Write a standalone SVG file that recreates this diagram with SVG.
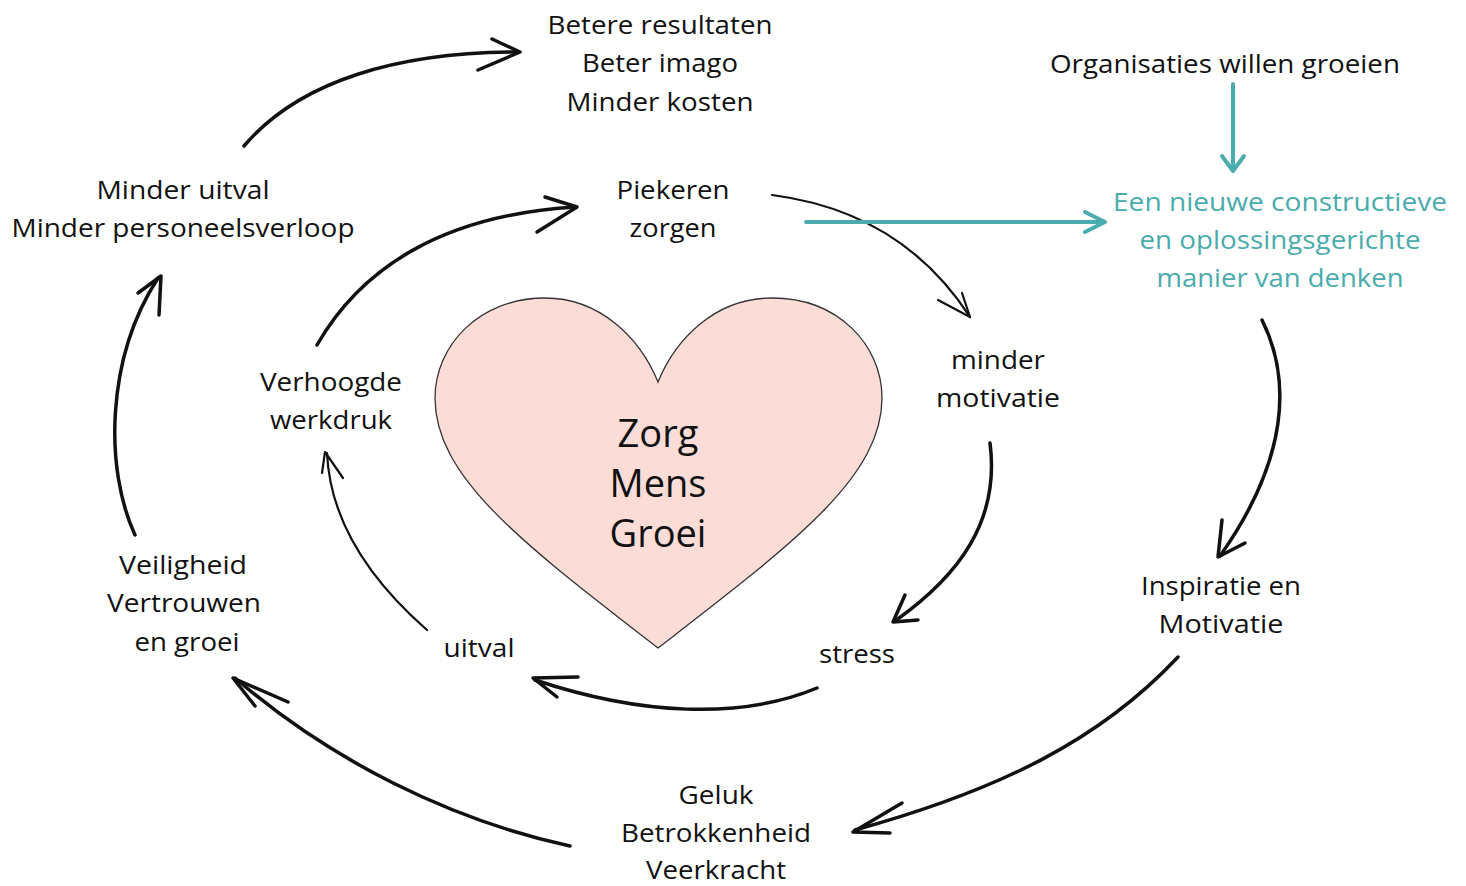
<svg xmlns="http://www.w3.org/2000/svg" width="1466" height="886" viewBox="0 0 1466 886">
<style>
text{font-family:"Open Sans","Noto Sans","Liberation Sans",sans-serif;font-size:26px;fill:#111;text-anchor:middle}
.teal{fill:#4aacac}
.big{font-size:38px}
.c{fill:none;stroke:#111;stroke-linecap:round;stroke-linejoin:round}
.w3{stroke-width:3.5}
.w2{stroke-width:2.2}
.t{fill:none;stroke:#4aacac;stroke-width:4;stroke-linecap:round;stroke-linejoin:round}
</style>
<rect width="1466" height="886" fill="#fff"/>
<g id="heart">
<path d="M658,382 C640,338 600,298 545,298 C480,298 435,345 435,398 C435,478 525,545 658,648 C791,545 882,478 882,398 C882,345 838,298 772,298 C716,298 676,338 658,382 Z" fill="#fbdcd7" stroke="#333" stroke-width="1.3"/>
<text class="big" x="658" y="447">Zorg</text>
<text class="big" x="658" y="497">Mens</text>
<text class="big" x="658" y="547">Groei</text>
</g>
<g id="node-resultaten">
<text x="660" y="34" textLength="225" lengthAdjust="spacingAndGlyphs">Betere resultaten</text>
<text x="660" y="72" textLength="156" lengthAdjust="spacingAndGlyphs">Beter imago</text>
<text x="660" y="111" textLength="187" lengthAdjust="spacingAndGlyphs">Minder kosten</text>
</g>
<g id="node-organisaties">
<text x="1225" y="73" textLength="350" lengthAdjust="spacingAndGlyphs">Organisaties willen groeien</text>
</g>
<g id="node-denken">
<text class="teal" x="1280" y="211" textLength="334" lengthAdjust="spacingAndGlyphs">Een nieuwe constructieve</text>
<text class="teal" x="1280" y="249" textLength="281" lengthAdjust="spacingAndGlyphs">en oplossingsgerichte</text>
<text class="teal" x="1280" y="287" textLength="247" lengthAdjust="spacingAndGlyphs">manier van denken</text>
</g>
<g id="node-piekeren">
<text x="673" y="199" textLength="113" lengthAdjust="spacingAndGlyphs">Piekeren</text>
<text x="673" y="237" textLength="87" lengthAdjust="spacingAndGlyphs">zorgen</text>
</g>
<g id="node-uitval-verloop">
<text x="183" y="199" textLength="173" lengthAdjust="spacingAndGlyphs">Minder uitval</text>
<text x="183" y="237" textLength="343" lengthAdjust="spacingAndGlyphs">Minder personeelsverloop</text>
</g>
<g id="node-werkdruk">
<text x="331" y="391" textLength="142" lengthAdjust="spacingAndGlyphs">Verhoogde</text>
<text x="331" y="429" textLength="122" lengthAdjust="spacingAndGlyphs">werkdruk</text>
</g>
<g id="node-motivatie">
<text x="998" y="369" textLength="94" lengthAdjust="spacingAndGlyphs">minder</text>
<text x="998" y="407" textLength="124" lengthAdjust="spacingAndGlyphs">motivatie</text>
</g>
<g id="node-veiligheid">
<text x="183" y="574" textLength="128" lengthAdjust="spacingAndGlyphs">Veiligheid</text>
<text x="184" y="612" textLength="154" lengthAdjust="spacingAndGlyphs">Vertrouwen</text>
<text x="187" y="651" textLength="105" lengthAdjust="spacingAndGlyphs">en groei</text>
</g>
<g id="node-uitval">
<text x="479" y="657" textLength="71" lengthAdjust="spacingAndGlyphs">uitval</text>
</g>
<g id="node-stress">
<text x="857" y="663" textLength="76" lengthAdjust="spacingAndGlyphs">stress</text>
</g>
<g id="node-inspiratie">
<text x="1221" y="595" textLength="160" lengthAdjust="spacingAndGlyphs">Inspiratie en</text>
<text x="1221" y="633" textLength="125" lengthAdjust="spacingAndGlyphs">Motivatie</text>
</g>
<g id="node-geluk">
<text x="716" y="804" textLength="75" lengthAdjust="spacingAndGlyphs">Geluk</text>
<text x="716" y="842" textLength="190" lengthAdjust="spacingAndGlyphs">Betrokkenheid</text>
<text x="716" y="879" textLength="140" lengthAdjust="spacingAndGlyphs">Veerkracht</text>
</g>
<g id="connectors">
<path class="c w3" d="M244,146 C300,80 400,52 518,52"/>
<path class="c w3" d="M492,39 L520,52 L478,70"/>
<path class="c w3" d="M317,345 C360,270 440,215 576,207"/>
<path class="c w3" d="M545,197 L577,207 L537,232"/>
<path class="c w2" d="M772,195 C850,205 920,240 970,317"/>
<path class="c w2" d="M938,300 L970,317 L962,293"/>
<path class="t" d="M806,222 L1104,222"/>
<path class="t" d="M1085,212 L1105,222 L1085,232"/>
<path class="t" d="M1233,84 L1233,170"/>
<path class="t" d="M1222,156 L1233,171 L1244,156"/>
<path class="c w3" d="M1262,320 C1292,380 1288,460 1220,556"/>
<path class="c w3" d="M1222,520 L1218,557 L1245,543"/>
<path class="c w3" d="M1178,657 C1100,740 1000,790 855,830"/>
<path class="c w3" d="M902,803 L853,832 L890,833"/>
<path class="c w3" d="M570,846 C450,820 330,760 235,678"/>
<path class="c w3" d="M288,702 L233,678 L255,706"/>
<path class="c w3" d="M135,535 C105,470 105,360 158,278"/>
<path class="c w3" d="M138,293 L161,276 L159,315"/>
<path class="c w2" d="M427,630 C370,580 330,520 327,453"/>
<path class="c w2" d="M322,473 L325,452 L343,478"/>
<path class="c w3" d="M817,688 C740,720 640,715 535,680"/>
<path class="c w3" d="M578,677 L533,678 L557,697"/>
<path class="c w3" d="M990,443 C1000,520 960,575 895,621"/>
<path class="c w3" d="M905,595 L893,622 L918,620"/>
</g>
</svg>
